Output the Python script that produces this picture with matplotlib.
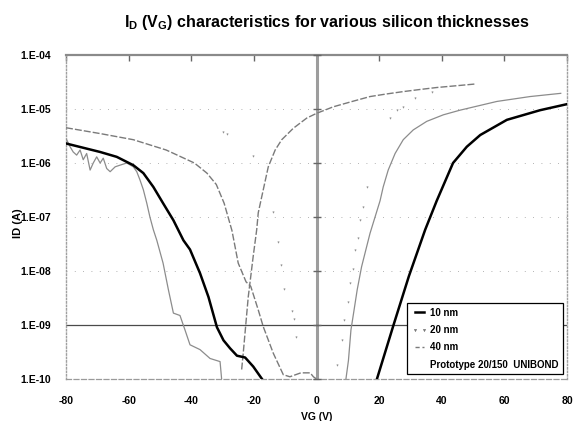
import numpy as np
import matplotlib
matplotlib.use("Agg")
import matplotlib.pyplot as plt
from matplotlib.lines import Line2D

plt.rcParams['font.family'] = ['Liberation Sans', 'DejaVu Sans']
plt.rcParams['font.weight'] = 'bold'
plt.rcParams['mathtext.fontset'] = 'custom'
plt.rcParams['mathtext.rm'] = 'Liberation Sans:bold'
plt.rcParams['mathtext.it'] = 'Liberation Sans:bold'
plt.rcParams['mathtext.bf'] = 'Liberation Sans:bold'

# ---- data (VG in V, ID in A) ----
vg_10_p = [-80, -69.1, -63.8, -58.5, -55.3, -52.1, -49, -45.7, -42.5, -40.4, -37.2, -34.5,
           -31.8, -29.7, -27.6, -25.4, -22.8, -20.2, -17.4]
id_10_p = [2.3e-6, 1.6e-6, 1.3e-6, 9.1e-7, 6.5e-7, 3.6e-7, 1.8e-7, 8.7e-8, 3.7e-8, 2.5e-8,
           9.1e-9, 3.3e-9, 9.1e-10, 5.2e-10, 3.7e-10, 2.7e-10, 2.5e-10, 1.7e-10, 1.0e-10]
vg_10_n = [19.3, 24.6, 29.5, 34.7, 38.4, 43.6, 48, 52.3, 60.8, 71.4, 80]
id_10_n = [1.0e-10, 1.0e-9, 8.0e-9, 5.8e-8, 2.0e-7, 1.0e-6, 2.0e-6, 3.3e-6, 6.3e-6, 9.5e-6, 1.23e-5]

vg_20_p = [-30, -28.5, -20.2, -13.8, -12.2, -11.3, -10.4, -7.9, -7.2, -6.5]
id_20_p = [3.7e-6, 3.5e-6, 1.35e-6, 1.26e-7, 3.5e-8, 1.3e-8, 4.7e-9, 1.8e-9, 1.3e-9, 6.0e-10]
vg_20_n = [6.7, 8.0, 8.9, 10.0, 10.7, 11.5, 12.3, 13.1, 13.9, 14.8, 16.0, 23.5, 25.8, 27.7, 31.5, 36.8]
id_20_n = [1.8e-10, 5.2e-10, 1.26e-9, 2.7e-9, 6.0e-9, 1.1e-8, 2.5e-8, 4.0e-8, 8.7e-8, 1.55e-7,
           3.6e-7, 6.8e-6, 9.5e-6, 1.1e-5, 1.6e-5, 2.1e-5]

vg_40_p = [-80, -69, -58.5, -48, -39, -35, -32, -29.5, -27, -25, -22.5, -21, -18.6, -17,
           -13.8, -10.6, -8.5, -5, -2, -1, 0]
id_40_p = [4.5e-6, 3.5e-6, 2.7e-6, 1.74e-6, 1.0e-6, 6.5e-7, 4.0e-7, 1.8e-7, 5.6e-8, 1.4e-8,
           6.3e-9, 5.2e-9, 1.9e-9, 9.3e-10, 3.0e-10, 1.2e-10, 1.1e-10, 1.3e-10, 1.3e-10, 1.1e-10, 1.0e-10]
vg_40_n = [-23.9, -23.4, -21.8, -20.2, -19.1, -18.6, -17, -15.4, -13.2, -11.1, -7.4, -3.1, 0,
           5.4, 11.8, 17.1, 22.4, 27.7, 33.1, 38.4, 44.8, 50.6]
id_40_n = [1.5e-10, 3.0e-10, 3.3e-9, 1.9e-8, 5.8e-8, 1.2e-7, 3.2e-7, 8.5e-7, 1.74e-6, 2.7e-6,
           4.4e-6, 6.8e-6, 8.3e-6, 1.1e-5, 1.4e-5, 1.7e-5, 1.9e-5, 2.1e-5, 2.3e-5, 2.5e-5, 2.7e-5, 2.9e-5]

vg_pr_p = [-79.8, -78.7, -77.7, -76.6, -75.5, -74.5, -73.4, -72.3, -71.3, -70.2, -69.1, -68.1,
           -67.0, -65.9, -64.3, -62.8, -60.6, -58.5, -57.4, -56.4, -55.3, -54.2, -53.2, -52.1,
           -51.0, -49, -47.3, -45.7, -43.6, -42, -40.4, -37.2, -34, -30.8, -30.3]
id_pr_p = [2.7e-6, 2.0e-6, 1.6e-6, 1.4e-6, 1.74e-6, 1.15e-6, 1.5e-6, 7.4e-7, 1.0e-6, 1.3e-6,
           1.0e-6, 1.23e-6, 7.9e-7, 6.9e-7, 8.5e-7, 9.1e-7, 1.0e-6, 8.5e-7, 6.9e-7, 4.9e-7,
           3.2e-7, 1.8e-7, 1.0e-7, 5.8e-8, 3.7e-8, 1.4e-8, 4.5e-9, 1.66e-9, 1.5e-9, 8.1e-10,
           4.3e-10, 3.5e-10, 2.4e-10, 2.1e-10, 1.0e-10]
vg_pr_n = [9.4, 10.2, 11.0, 12.0, 13.0, 14.4, 16.0, 17.1, 20.3, 21.3, 22.9, 25.1, 27.7, 30.9,
           35.2, 40.5, 45.8, 57.6, 68.2, 78]
id_pr_n = [1.0e-10, 2.2e-10, 8.1e-10, 1.9e-9, 4.5e-9, 1.2e-8, 2.8e-8, 5.0e-8, 2.0e-7, 3.6e-7,
           7.4e-7, 1.5e-6, 2.7e-6, 4.1e-6, 5.9e-6, 7.8e-6, 9.5e-6, 1.38e-5, 1.7e-5, 1.95e-5]

x_ticks = [-80, -60, -40, -20, 0, 20, 40, 60, 80]
y_ticks = [1e-10, 1e-9, 1e-8, 1e-7, 1e-6, 1e-5, 1e-4]
y_labels = ['1.E-10', '1.E-09', '1.E-08', '1.E-07', '1.E-06', '1.E-05', '1.E-04']
labels = ['10 nm', '20 nm', '40 nm', 'Prototype 20/150  UNIBOND']

fig = plt.figure(figsize=(5.75, 4.21), dpi=100)
ax = fig.add_axes([66/575, 1-379/421, 501/575, 324/421])
ax.set_yscale('log')
ax.set_xlim(-80, 80)
ax.set_ylim(1e-10, 1e-4)

# faint dotted gridlines at decades
for yv in y_ticks[1:-1]:
    ax.axhline(yv, color='#9a9a9a', lw=0.6, ls=(0, (1, 9)), zorder=1)

# Excel-like crossing axes
ax.axvline(0, color='#9d9d9d', lw=2.2, zorder=2)
ax.axhline(1e-9, color='#4a4a4a', lw=0.9, zorder=2)
ax.plot(np.zeros(len(y_ticks)), y_ticks, ls='none', marker='_', ms=6, mew=1,
        color='#666666', zorder=3, clip_on=False)

c_pr = '#8c8c8c'
c_40 = '#7a7a7a'
c_20 = '#8a8a8a'
ax.plot(vg_pr_p, id_pr_p, color=c_pr, lw=0.9, zorder=4)
ax.plot(vg_pr_n, id_pr_n, color=c_pr, lw=0.9, zorder=4)
ax.plot(vg_40_p, id_40_p, color=c_40, lw=1.0, ls=(0, (5, 1.5)), zorder=4)
ax.plot(vg_40_n, id_40_n, color=c_40, lw=1.0, ls=(0, (5, 1.5)), zorder=4)
ax.plot(vg_20_p, id_20_p, ls='none', marker='v', ms=1.1, mew=0.3, color=c_20, zorder=4)
ax.plot(vg_20_n, id_20_n, ls='none', marker='v', ms=1.1, mew=0.3, color=c_20, zorder=4)
ax.plot(vg_10_p, id_10_p, color='black', lw=1.8, zorder=5)
ax.plot(vg_10_n, id_10_n, color='black', lw=1.8, zorder=5)

ax.set_xticks(x_ticks)
ax.set_xticklabels([str(v) for v in x_ticks], fontsize=7.5, fontweight='bold')
ax.set_yticks(y_ticks)
ax.set_yticklabels(y_labels, fontsize=7.5, fontweight='bold')
ax.minorticks_off()
ax.tick_params(axis='x', top=True, bottom=False, direction='in', length=4, width=1,
               color='#666666', pad=12, labelbottom=True)
ax.tick_params(axis='y', left=False, right=False, pad=7)

ax.spines['top'].set_color('#8a8a8a')
ax.spines['top'].set_linewidth(1.6)
for s in ['left', 'right']:
    ax.spines[s].set_color('#a0a0a0')
    ax.spines[s].set_linewidth(1.0)
    ax.spines[s].set_linestyle((0, (1, 1.5)))
ax.spines['bottom'].set_color('#9a9a9a')
ax.spines['bottom'].set_linewidth(0.9)
ax.spines['bottom'].set_linestyle((0, (4, 2)))

handles = [
    Line2D([], [], color='black', lw=1.8),
    Line2D([], [], color='#777777', ls='none', marker='v', ms=1.8, mew=0.3),
    Line2D([], [], color=c_40, lw=1.0, ls=(0, (3, 2))),
    Line2D([], [], color='none'),
]
leg = ax.legend(handles, labels, loc='lower right', bbox_to_anchor=(0.993, 0.014),
                prop={'weight': 'bold', 'size': 7}, frameon=True, fancybox=False,
                edgecolor='black', framealpha=1, handlelength=1.6, handletextpad=0.3,
                labelspacing=0.75, borderpad=0.5, numpoints=2, borderaxespad=0)
leg.get_frame().set_linewidth(0.9)
leg.set_zorder(10)

fig.text(0.568, 1-22/421, r'I$_\mathrm{D}$ (V$_\mathrm{G}$) characteristics for various silicon thicknesses',
         ha='center', va='center', fontsize=11.5, fontweight='bold')
fig.text(18/575, 1-223/421, 'ID (A)', rotation=90, ha='center', va='center',
         fontsize=8, fontweight='bold')
fig.text(317/575, 1-417/421, 'VG (V)', ha='center', va='center', fontsize=7.5, fontweight='bold')

fig.savefig('out.png', dpi=100)
